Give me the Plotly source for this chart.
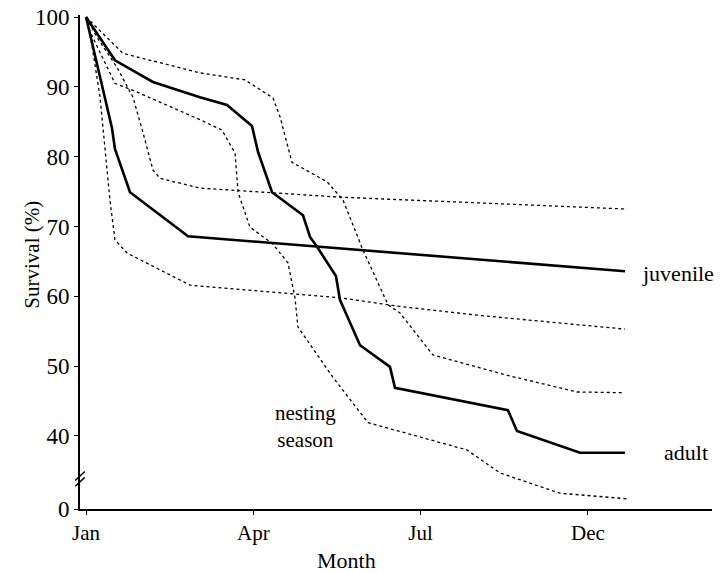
import plotly.graph_objects as go

# x positions on a month axis where Jan=0, Apr=1, Jul=2, Dec=3 (as drawn)
month_ticks = [0, 1, 2, 3]
month_labels = ["Jan", "Apr", "Jul", "Dec"]

# y axis: broken between 0 and 40; "0" sits at 29.54 on the drawn scale
y_tickvals = [29.54, 40, 50, 60, 70, 80, 90, 100]
y_ticktext = ["0", "40", "50", "60", "70", "80", "90", "100"]

juv_x = [0, 0.155, 0.173, 0.263, 0.610, 3.222]
juv_y = [100, 84.1, 81.1, 74.9, 68.6, 63.6]

juv_up_x = [0, 0.066, 0.185, 0.281, 0.341, 0.400, 0.442, 0.681, 1.518, 3.234]
juv_up_y = [100, 97.1, 92.8, 88.5, 83.4, 78.1, 76.9, 75.5, 74.2, 72.5]

juv_lo_x = [0, 0.024, 0.084, 0.143, 0.173, 0.245, 0.622, 1.518, 1.859, 2.337, 3.222]
juv_lo_y = [100, 97.7, 88.5, 73.8, 68.1, 66.2, 61.6, 59.8, 58.6, 57.3, 55.3]

ad_x = [0, 0.173, 0.400, 0.681, 0.843, 0.992, 1.028, 1.112, 1.297, 1.339, 1.381,
        1.494, 1.518, 1.638, 1.817, 1.847, 2.522, 2.576, 2.953, 3.222]
ad_y = [100, 93.8, 90.7, 88.5, 87.4, 84.4, 80.7, 74.9, 71.6, 68.5, 67.1,
        62.9, 59.5, 53.0, 49.9, 46.9, 43.7, 40.7, 37.6, 37.6]

ad_up_x = [0, 0.221, 0.681, 0.950, 1.118, 1.160, 1.231, 1.441, 1.536, 1.656, 1.805,
           1.877, 2.074, 2.516, 2.935, 3.204]
ad_up_y = [100, 94.8, 92.0, 91.0, 88.4, 85.7, 79.2, 76.4, 73.8, 66.6, 58.8,
           57.6, 51.6, 48.7, 46.3, 46.2]

ad_lo_x = [0, 0.024, 0.173, 0.281, 0.681, 0.813, 0.891, 0.909, 0.980, 1.112, 1.207,
           1.249, 1.267, 1.476, 1.686, 2.277, 2.475, 2.833, 3.234]
ad_lo_y = [100, 97.9, 90.5, 89.5, 85.3, 83.8, 80.5, 74.9, 69.9, 67.6, 64.8,
           59.8, 55.6, 48.4, 41.9, 38.0, 34.7, 31.8, 31.0]

FONT = "Liberation Serif"
fig = go.Figure()

dot = dict(color="black", width=1.3, dash="3px,3px")
solid = dict(color="black", width=2.6)

for xs, ys in [(juv_up_x, juv_up_y), (juv_lo_x, juv_lo_y),
               (ad_up_x, ad_up_y), (ad_lo_x, ad_lo_y)]:
    fig.add_trace(go.Scatter(x=xs, y=ys, mode="lines", line=dot, showlegend=False,
                             hoverinfo="skip"))
fig.add_trace(go.Scatter(x=juv_x, y=juv_y, mode="lines", line=solid, showlegend=False,
                         hoverinfo="skip"))
fig.add_trace(go.Scatter(x=ad_x, y=ad_y, mode="lines", line=solid, showlegend=False,
                         hoverinfo="skip"))

fig.update_layout(
    width=722, height=573,
    margin=dict(l=80, r=10, t=15, b=64, autoexpand=False),
    plot_bgcolor="white", paper_bgcolor="white",
    font=dict(family=FONT, size=22, color="black"),
    xaxis=dict(range=[-0.036, 3.742], tickvals=month_ticks, ticktext=month_labels,
               showline=True, linecolor="black", linewidth=2, ticks="outside",
               ticklen=4, tickcolor="black", showgrid=False, zeroline=False,
               tickfont=dict(family=FONT, size=21), ticklabeloverflow="allow"),
    yaxis=dict(range=[29.54, 100.29], tickvals=y_tickvals, ticktext=y_ticktext,
               showline=True, linecolor="black", linewidth=2, ticks="outside",
               ticklen=4, tickcolor="black", showgrid=False, zeroline=False,
               tickfont=dict(family=FONT, size=23), ticklabeloverflow="allow"),
    annotations=[
        dict(text="Month", x=0.422, y=-0.105, xref="paper", yref="paper",
             showarrow=False, yanchor="middle", font=dict(size=22)),
        dict(text="Survival (%)", x=-0.098, y=0.515, xref="paper", yref="paper",
             showarrow=False, textangle=-90, font=dict(size=21)),
        dict(text="juvenile", x=3.311, y=63.3, xref="x", yref="y", showarrow=False,
             xanchor="left", font=dict(size=22)),
        dict(text="adult", x=3.443, y=37.6, xref="x", yref="y", showarrow=False,
             xanchor="left", font=dict(size=22)),
        dict(text="nesting<br>season", x=1.309, y=41.3, xref="x", yref="y",
             showarrow=False, font=dict(size=21)),
    ],
    shapes=[
        dict(type="line", xref="paper", yref="paper", x0=-0.0075, x1=0.0075,
             y0=0.058, y1=0.076, line=dict(color="black", width=1.5)),
        dict(type="line", xref="paper", yref="paper", x0=-0.0075, x1=0.0075,
             y0=0.046, y1=0.064, line=dict(color="black", width=1.5)),
    ],
)

fig.write_html("out.html", config={"displayModeBar": False},
               post_script="document.body.style.margin='0';document.body.style.overflow='hidden';")
